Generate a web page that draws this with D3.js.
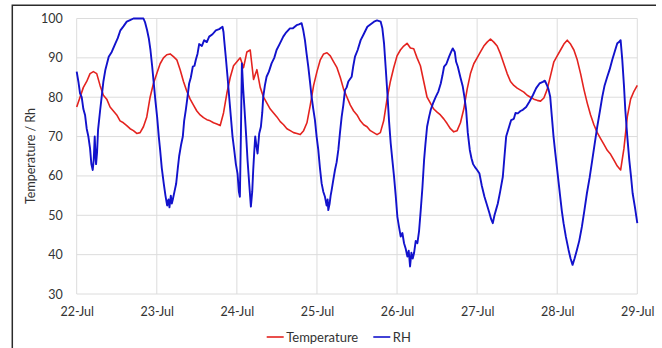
<!DOCTYPE html>
<html><head><meta charset="utf-8">
<script src="https://cdn.jsdelivr.net/npm/d3@7"></script>
<style>
body{margin:0;background:#fff}
svg{display:block}
text{font-family:Lato,"Open Sans",sans-serif;fill:#333}
</style>
</head><body>
<svg id="chart" width="662" height="348"></svg>
<script>
// ---- data ----
const dayLabels = ["22-Jul","23-Jul","24-Jul","25-Jul","26-Jul","27-Jul","28-Jul","29-Jul"];
const dayHours  = [0,24,48,72,96,120,144,168];
const yTicks    = [30,40,50,60,70,80,90,100];
const seriesNames = ["Temperature","RH"];

// Temperature, hourly from 22-Jul 00:00
const temperature = [
 77.5,80,82.5,84,86,86.5,86,83,80.5,79.5,77.5,76.5,75.5,74,73.5,72.8,72,71.5,70.8,71,72.5,75,80,83.5,
 86,88.5,90,90.8,91,90.3,89.5,87,84,81.5,79.5,78,76.5,75.5,74.8,74.3,74,73.5,73.2,72.8,76,81,85,88,
 89,90,87.5,91.5,92,84.5,87,82.5,80,78.5,77,76,75,73.8,73,72,71.5,71,70.8,70.5,71.5,73.5,78,83,
 86.5,89.5,91,91.3,90.5,89,87.5,85,82,80,78,76.5,75.5,74,73,72.5,71.5,71,70.5,71,74,79.5,84,87.5,
 90.5,92,93,93.7,92.5,92.3,90,88,84,80,78.5,77,76.2,75.5,74.5,73.3,72,71.2,71.5,73.5,77,82,86,88.5,
 90,91.5,93,94,94.8,94,93,91,88.5,86,84,83,82.3,81.8,81.3,80.5,80,79.5,79.2,79,79.8,82,85.5,89,
 90.5,92,93.5,94.5,93.5,92,89.5,86,82,78.5,75.5,73,71,69.5,68,66.5,65.5,64,62.5,61.5,67,75,79.5,81.5,83
];

// RH readings: [hour since 22-Jul 00:00, value]
const rhReadings = [
 [0,86.5],[0.5,84],[1,81],[1.5,80],[2,77],[2.5,75.5],[3,72],[3.5,70],[4,67],[4.4,63],[4.8,61.5],[5.1,64],[5.4,70],[5.6,66],[5.8,63],[6.1,66],[6.4,71.7],
 [7,76.5],[7.6,81],[8,84],[8.6,87],[9.6,90.3],[10.5,91.5],[11.6,93.7],[12.3,95],[13.1,97],[14,98],[15,99.2],[16,99.6],[17,100],[18,100],[19,100],[20,100],
 [20.5,99],[21.1,97],[21.6,95],[22.1,92],[22.6,88],[23.1,83.5],[23.6,79],[24.1,75],[24.6,70],[25,66.6],[25.5,62],[26.1,58],[26.6,55],[27.1,52.5],[27.5,54],
 [27.8,52],[28.2,55],[28.5,53],[28.8,54],[29.3,56],[29.8,58],[30.3,62],[30.7,65],[31.3,68],[31.8,70],[32.2,74],[32.7,76.8],[33.2,80],[33.7,83.5],[34.2,85],
 [34.8,87.8],[35.3,88],[35.7,89.5],[36.2,91],[36.7,93.5],[37.5,93],[38.2,94.5],[39,94],[39.7,95.4],[40.7,96],[41.7,97],[42.7,97.3],[43.7,97.9],[44,96.5],
 [44.2,94.5],[44.7,90],[45.2,85.2],[45.7,80],[46.2,75],[46.7,70],[47.2,66.6],[47.7,63],[48.2,60.6],[48.6,56],[48.9,54.7],[49.2,70],[49.5,88.6],[49.9,82],
 [50.3,76.8],[50.8,70],[51.2,64],[51.7,58],[52.2,52.2],[52.6,56],[52.9,61.5],[53.2,66],[53.5,70],[53.8,68],[54.2,65.7],[54.7,70.8],[55.2,72.5],[55.6,76],
 [55.9,80.1],[56.4,83],[56.9,85.2],[57.6,86.5],[58.4,88.6],[59.2,90],[59.9,92],[60.8,93.5],[61.9,95.4],[62.8,96.5],[63.9,97.5],[64.8,97.5],[65.9,98.3],
 [66.6,98.5],[67.4,98.8],[67.9,97],[68.4,94.5],[68.9,91],[69.4,87.8],[69.9,84],[70.4,80.1],[70.9,77],[71.4,74.2],[71.9,70],[72.4,66.6],[72.9,62],[73.4,58.1],
 [73.9,56],[74.4,54.7],[74.9,52.5],[75.2,54],[75.4,51.3],[75.8,53],[76.1,55],[76.4,56.4],[76.9,59],[77.4,61.5],[77.9,63.5],[78.4,66.6],[78.9,71],[79.4,75],
 [79.9,78],[80.4,81.8],[80.9,82.5],[81.4,84],[82.4,85.2],[82.9,88],[83.4,90.3],[84.2,92],[85.1,94.5],[86,96],[87.1,97.9],[88,98.5],[89.1,99.2],[90,99.5],
 [91.1,99.2],[91.6,97.5],[92.1,93.7],[92.6,87.5],[93.1,81],[93.6,74],[94.1,68.3],[94.6,64],[95.1,59.8],[95.6,55],[96.1,49.6],[96.6,47],[97.1,44.6],[97.6,45.5],
 [98.1,42.9],[98.6,41.5],[99.1,39.5],[99.5,41],[99.9,37],[100.3,40.5],[100.7,39],[101.1,40.4],[101.6,43.5],[102.1,42.9],[102.6,46],[103.1,51.3],[103.6,57],
 [104.1,64],[104.5,68],[105,72.5],[105.6,75],[106.1,76.8],[106.8,78.5],[107.6,80.1],[108.4,81.5],[109.1,83.5],[109.6,85.5],[110.1,87.8],[110.8,88.5],
 [111.6,90.3],[112.2,91.5],[112.7,92.4],[113.3,91.5],[113.7,89],[114.2,87.8],[115,85],[115.7,82.7],[116.2,80],[116.7,76.8],[117.2,71],[117.8,66.6],[118.3,64.5],
 [118.8,63],[119.3,62.3],[120,61.5],[120.7,60.6],[121.4,57.5],[122.2,54.7],[123,52.5],[123.7,50.5],[124.2,49],[124.7,48],[125.2,50],[125.7,51.5],[126.2,53],
 [126.9,56],[127.7,59.8],[128.2,65],[128.7,70],[129.4,72],[130.2,74.2],[131,74.5],[131.5,76],[132.2,75.9],[133,76.5],[133.7,76.8],[134.7,77.5],[135.7,78.9],
 [136.7,80.5],[137.7,82.3],[138.7,83.5],[139.7,83.9],[140.3,84.2],[140.9,83.1],[141.4,82],[141.9,80.1],[142.4,75],[142.9,70],[143.4,66],[143.9,62.3],
 [144.4,58.5],[144.9,54.7],[145.4,51],[145.9,48],[146.6,44.5],[147.4,41.2],[148,39],[148.6,37.4],[149.2,39],[149.9,41.2],[150.6,43.5],[151.4,47.1],[152.1,51],
 [152.9,55.6],[153.7,59.5],[154.5,64],[155.2,68],[156,72.5],[156.8,76.5],[157.5,80.1],[158.2,83],[159,85.2],[159.7,87],[160.5,89.5],[161.2,91.5],[162,93.7],
 [162.5,94],[163,94.5],[163.5,89.5],[164,83],[164.4,76.8],[165,70],[165.6,64],[166.1,60],[166.6,55.6],[167.3,52],[168,48]
];

// ---- drawing ----
(function(){
const svg = d3.select("#chart");
const pLeft = 76.7, pRight = 637.3, pTop = 18.5, pBottom = 294;
const x = d3.scaleLinear().domain([0,168]).range([pLeft,pRight]);
const y = d3.scaleLinear().domain([30,100]).range([pBottom,pTop]);

svg.append("rect").attr("width",662).attr("height",348).attr("fill","#fff");

// frame
svg.append("path").attr("d","M12.3,348 V5.3 H656").attr("fill","none")
  .attr("stroke","#2b2b2b").attr("stroke-width",1.5);

// gridlines
const grid = svg.append("g").attr("stroke","#dcdcdc").attr("stroke-width",1);
grid.selectAll("line.h").data(yTicks).join("line").attr("class","h")
  .attr("x1",pLeft).attr("x2",pRight).attr("y1",d=>y(d)).attr("y2",d=>y(d));
grid.selectAll("line.v").data(dayHours).join("line").attr("class","v")
  .attr("y1",pTop).attr("y2",pBottom).attr("x1",d=>x(d)).attr("x2",d=>x(d));

// axes
const yAxis = svg.append("g").attr("transform",`translate(${pLeft},0)`)
  .call(d3.axisLeft(y).tickValues(yTicks).tickSize(0).tickPadding(14).tickFormat(d3.format("d")));
const xAxis = svg.append("g").attr("transform",`translate(0,${pBottom})`)
  .call(d3.axisBottom(x).tickValues(dayHours).tickSize(0).tickPadding(13).tickFormat((d,i)=>dayLabels[i]));
[yAxis,xAxis].forEach(g=>{
  g.select(".domain").remove();
  g.selectAll("text").attr("font-size","12.5px").attr("fill","#2e2e2e")
   .attr("font-family","Lato, 'Open Sans', sans-serif");
});

// y title
svg.append("text").attr("transform","translate(34.5,156) rotate(-90)")
  .attr("text-anchor","middle").attr("font-size","12.5px").attr("fill","#2e2e2e").text("Temperature / Rh");

// lines
const tempLine = d3.line().x((d,i)=>x(i)).y(d=>y(d));
const rhLine = d3.line().x(d=>x(d[0])).y(d=>y(d[1]));
svg.append("path").datum(temperature).attr("d",tempLine)
  .attr("fill","none").attr("stroke","#e4231f").attr("stroke-width",1.6).attr("stroke-linejoin","round");
svg.append("path").datum(rhReadings).attr("d",rhLine)
  .attr("fill","none").attr("stroke","#1212cc").attr("stroke-width",1.9).attr("stroke-linejoin","round");

// legend
const colors = ["#e4231f","#1212cc"];
const lg = svg.append("g");
const legendX = [266.7, 373.3];
seriesNames.forEach((n,i)=>{
  lg.append("line").attr("x1",legendX[i]).attr("x2",legendX[i]+17).attr("y1",337).attr("y2",337)
    .attr("stroke",colors[i]).attr("stroke-width",1.6);
  lg.append("text").attr("x",legendX[i]+19.5).attr("y",341.5).attr("font-size","13px").attr("fill","#2e2e2e").text(n);
});
})();
</script>
</body></html>
